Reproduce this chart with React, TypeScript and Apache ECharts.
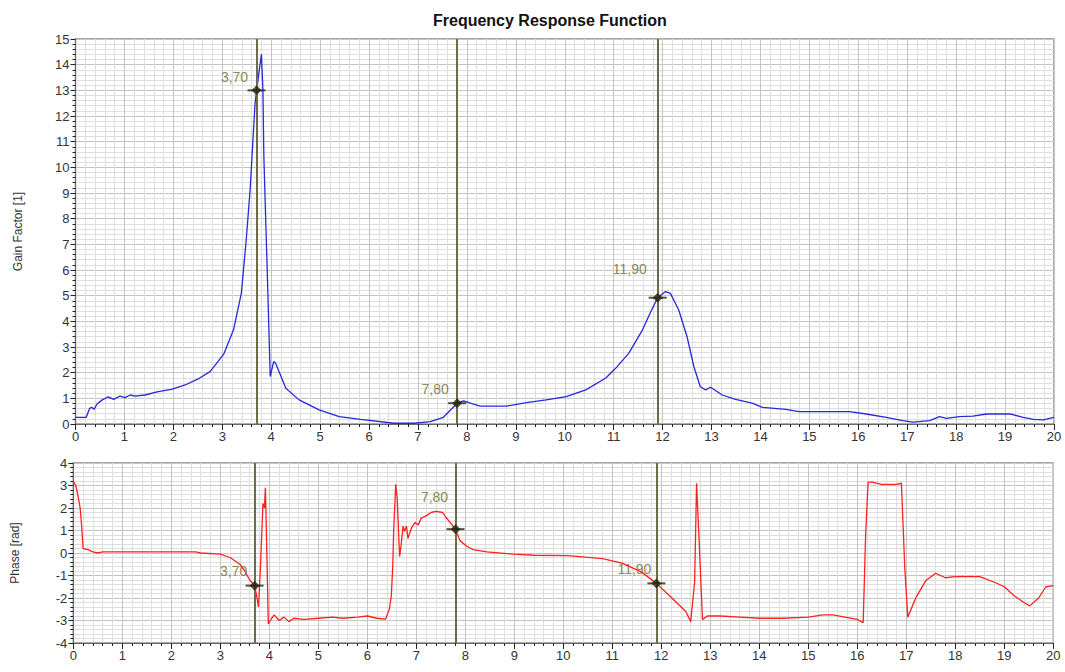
import React, { useEffect, useRef } from "react";
import * as echarts from "echarts";

const titleText = "Frequency Response Function";
const gainName = "Gain Factor [1]";
const phaseName = "Phase [rad]";

const cursorFreqs = [3.7, 7.8, 11.9];
const gainAtCursor = [13.0, 0.81, 4.92];
const phaseAtCursor = [-1.45, 1.06, -1.35];

const gainFreq = [
  0, 0.22, 0.29, 0.33, 0.38, 0.44, 0.54, 0.67, 0.78, 0.91, 1.01, 1.12, 1.22, 1.42, 1.69, 1.96, 2.24, 2.53,
  2.75, 3.03, 3.23, 3.39, 3.49, 3.57, 3.62, 3.67, 3.7, 3.75, 3.8, 3.83, 3.85, 3.92, 3.98, 4.05, 4.09, 4.3,
  4.57, 4.98, 5.39, 5.83, 6.51, 6.92, 7.25, 7.52, 7.8, 7.93, 8.07, 8.27, 8.81, 9.22, 9.62, 10.03, 10.43,
  10.84, 11.04, 11.31, 11.59, 11.76, 11.9, 12.06, 12.16, 12.33, 12.5, 12.64, 12.77, 12.88, 12.98, 13.22,
  13.49, 13.83, 14.04, 14.52, 14.79, 15.82, 16.16, 16.57, 16.91, 17.12, 17.46, 17.66, 17.8, 18.07, 18.34,
  18.62, 19.1, 19.37, 19.58, 19.78, 20,
];
const gainVals = [
  0.26, 0.26, 0.61, 0.65, 0.57, 0.78, 0.93, 1.06, 0.96, 1.09, 1.03, 1.13, 1.09, 1.13, 1.26, 1.35, 1.52, 1.78,
  2.04, 2.72, 3.67, 5.1, 7.19, 9.14, 10.83, 12.5, 12.95, 13.7, 14.4, 13.05, 10.4, 5.9, 1.85, 2.43, 2.37, 1.39,
  0.94, 0.55, 0.29, 0.18, 0.03, 0.03, 0.09, 0.26, 0.81, 0.9, 0.81, 0.7, 0.7, 0.83, 0.94, 1.07, 1.33,
  1.79, 2.17, 2.76, 3.67, 4.38, 4.92, 5.16, 5.09, 4.44, 3.4, 2.23, 1.45, 1.33, 1.43, 1.13,
  0.96, 0.81, 0.65, 0.57, 0.48, 0.48, 0.39, 0.26, 0.13, 0.07, 0.13, 0.29, 0.22, 0.29, 0.31,
  0.39, 0.39, 0.26, 0.18, 0.16, 0.26,
];

const phaseFreq = [
  0, 0.05, 0.1, 0.14, 0.17, 0.2, 0.3, 0.4, 0.5, 0.6, 0.8, 1.0, 1.5, 2.0, 2.5, 2.6, 3.0, 3.2, 3.4, 3.5, 3.6,
  3.7, 3.75, 3.78, 3.82, 3.87, 3.9, 3.92, 3.95, 3.98, 4.05, 4.1, 4.2, 4.3, 4.4, 4.5, 4.7, 5.0, 5.3, 5.5, 5.8,
  6.0, 6.2, 6.37, 6.45, 6.49, 6.52, 6.54, 6.58, 6.61, 6.64, 6.66, 6.69, 6.73, 6.76, 6.8, 6.83, 6.9, 6.97,
  7.04, 7.1, 7.2, 7.3, 7.4, 7.54, 7.6, 7.8, 7.89, 8.03, 8.16, 8.44, 8.98, 9.4, 10.1, 10.8, 11.2, 11.6, 11.9,
  12.2, 12.5, 12.6, 12.68, 12.72, 12.77, 12.84, 12.94, 13.2, 13.6, 14.0, 14.5, 15.0, 15.3, 15.5, 16.0,
  16.12, 16.17, 16.22, 16.3, 16.5, 16.8, 16.9, 16.97, 17.03, 17.2, 17.4, 17.6, 17.8, 18.0, 18.5, 18.8,
  19.0, 19.2, 19.4, 19.52, 19.7, 19.85, 20,
];
const phaseVals = [
  3.18, 3.0, 2.5, 2.0, 1.2, 0.2, 0.15, 0.05, 0.0, 0.05, 0.05, 0.05, 0.05, 0.05, 0.05, 0.0, -0.05, -0.2, -0.5,
  -0.8, -1.2, -1.45, -2.0, -2.4, -0.6, 2.2, 2.0, 2.9, 0.0, -3.15, -2.9, -2.75, -3.0, -2.85, -3.05, -2.9,
  -2.95, -2.9, -2.85, -2.9, -2.85, -2.8, -2.9, -2.94, -2.5, -1.9, -0.55, 1.1, 3.05, 2.45, 0.8, -0.15, 0.35,
  1.2, 0.95, 1.2, 0.65, 1.1, 1.35, 1.25, 1.55, 1.65, 1.8, 1.85, 1.8, 1.6, 1.06, 0.55, 0.3, 0.15, 0.05,
  -0.05, -0.1, -0.12, -0.25, -0.45, -0.85, -1.35, -1.97, -2.6, -3.05, -1.3, 3.1, 0.65, -2.95, -2.8, -2.8,
  -2.85, -2.9, -2.9, -2.85, -2.75, -2.75, -2.95, -3.1, 0.8, 3.15, 3.15, 3.05, 3.05, 3.1, -0.7, -2.85,
  -1.97, -1.22, -0.9, -1.1, -1.05, -1.05, -1.3, -1.5, -1.9, -2.2, -2.35, -2.0, -1.5, -1.45,
];

// label placement (layout, not data)
const gainLabelOffsets = [[-22, -13], [-22, -14], [-28, -29]];
const phaseLabelOffsets = [[-21, -15], [-21, -32], [-22, -14]];

const FONT = "'Liberation Sans', Arial, sans-serif";
const CURSOR_COLOR = "#6c6c48";
const LABEL_COLOR = "#6a6a2e";
const MARK_COLOR = "#26260e";

function makeX(gridIndex: number) {
  return {
    type: "value",
    gridIndex,
    min: 0,
    max: 20,
    interval: 1,
    axisLine: { show: true, onZero: false, lineStyle: { color: "#6a6a6a", width: 1 } },
    axisTick: { show: true, length: 6, lineStyle: { color: "#222" } },
    minorTick: { show: true, splitNumber: 5, length: 3, lineStyle: { color: "#222" } },
    splitLine: { show: true, lineStyle: { color: "#c4c4c4", width: 1 } },
    minorSplitLine: { show: true, lineStyle: { color: "#dedede", width: 1 } },
    axisLabel: { color: "#333", fontSize: 13, fontFamily: FONT, margin: 6 },
  };
}

function makeY(gridIndex: number, min: number, max: number, name: string) {
  return {
    type: "value",
    gridIndex,
    min,
    max,
    interval: 1,
    name,
    nameLocation: "middle",
    nameGap: 52,
    nameTextStyle: { color: "#333", fontSize: 12, fontFamily: FONT },
    axisLine: { show: true, onZero: false, lineStyle: { color: "#6a6a6a", width: 1 } },
    axisTick: { show: true, length: 5, lineStyle: { color: "#222" } },
    minorTick: { show: true, splitNumber: 5, length: 3, lineStyle: { color: "#222" } },
    splitLine: { show: true, lineStyle: { color: "#c4c4c4", width: 1 } },
    minorSplitLine: { show: true, lineStyle: { color: "#dedede", width: 1 } },
    axisLabel: { color: "#333", fontSize: 13, fontFamily: FONT, margin: 6 },
  };
}

function cursorMarkLine() {
  return {
    silent: true,
    symbol: "none",
    label: { show: false },
    lineStyle: { color: CURSOR_COLOR, width: 2, type: "solid" },
    data: cursorFreqs.map((f) => ({ xAxis: f })),
  };
}

function markerSeries(idx: number, vals: number[], offsets: number[][]) {
  return [
    {
      type: "scatter",
      xAxisIndex: idx,
      yAxisIndex: idx,
      symbol: "rect",
      symbolSize: [18, 2],
      itemStyle: { color: MARK_COLOR },
      z: 5,
      silent: true,
      data: cursorFreqs.map((f, i) => [f, vals[i]]),
    },
    {
      type: "scatter",
      xAxisIndex: idx,
      yAxisIndex: idx,
      symbol: "diamond",
      symbolSize: 10,
      itemStyle: { color: MARK_COLOR },
      z: 6,
      silent: true,
      data: cursorFreqs.map((f, i) => ({
        value: [f, vals[i]],
        label: {
          show: true,
          position: "inside",
          offset: offsets[i],
          formatter: () => f.toFixed(2).replace(".", ","),
          color: LABEL_COLOR,
          fontSize: 14,
          fontFamily: FONT,
        },
      })),
    },
  ];
}

export default function App() {
  const ref = useRef<HTMLDivElement>(null);
  useEffect(() => {
    if (!ref.current) return;
    const chart = echarts.init(ref.current, undefined, { renderer: "svg" });
    chart.setOption({
      animation: false,
      backgroundColor: "#ffffff",
      title: {
        text: titleText,
        left: 428,
        top: 7,
        textStyle: { fontSize: 16, fontWeight: "bold", color: "#111", fontFamily: FONT },
      },
      grid: [
        { left: 75.5, top: 39, width: 978.5, height: 385, show: true, borderColor: "#8c8c8c", borderWidth: 1.5, backgroundColor: "#fff" },
        { left: 73.3, top: 463, width: 980, height: 180, show: true, borderColor: "#8c8c8c", borderWidth: 1.5, backgroundColor: "#fff" },
      ],
      xAxis: [makeX(0), makeX(1)],
      yAxis: [makeY(0, 0, 15, gainName), makeY(1, -4, 4, phaseName)],
      series: [
        {
          type: "line",
          xAxisIndex: 0,
          yAxisIndex: 0,
          showSymbol: false,
          silent: true,
          lineStyle: { color: "#2727dc", width: 1.3 },
          data: gainFreq.map((f, i) => [f, gainVals[i]]),
          markLine: cursorMarkLine(),
          z: 4,
        },
        {
          type: "line",
          xAxisIndex: 1,
          yAxisIndex: 1,
          showSymbol: false,
          silent: true,
          lineStyle: { color: "#ff2020", width: 1.3 },
          data: phaseFreq.map((f, i) => [f, phaseVals[i]]),
          markLine: cursorMarkLine(),
          z: 4,
        },
        ...markerSeries(0, gainAtCursor, gainLabelOffsets),
        ...markerSeries(1, phaseAtCursor, phaseLabelOffsets),
      ],
    });
    return () => chart.dispose();
  }, []);
  return (
    <div
      ref={ref}
      style={{ position: "fixed", left: 0, top: 0, width: 1065, height: 672, background: "#fff" }}
    />
  );
}
